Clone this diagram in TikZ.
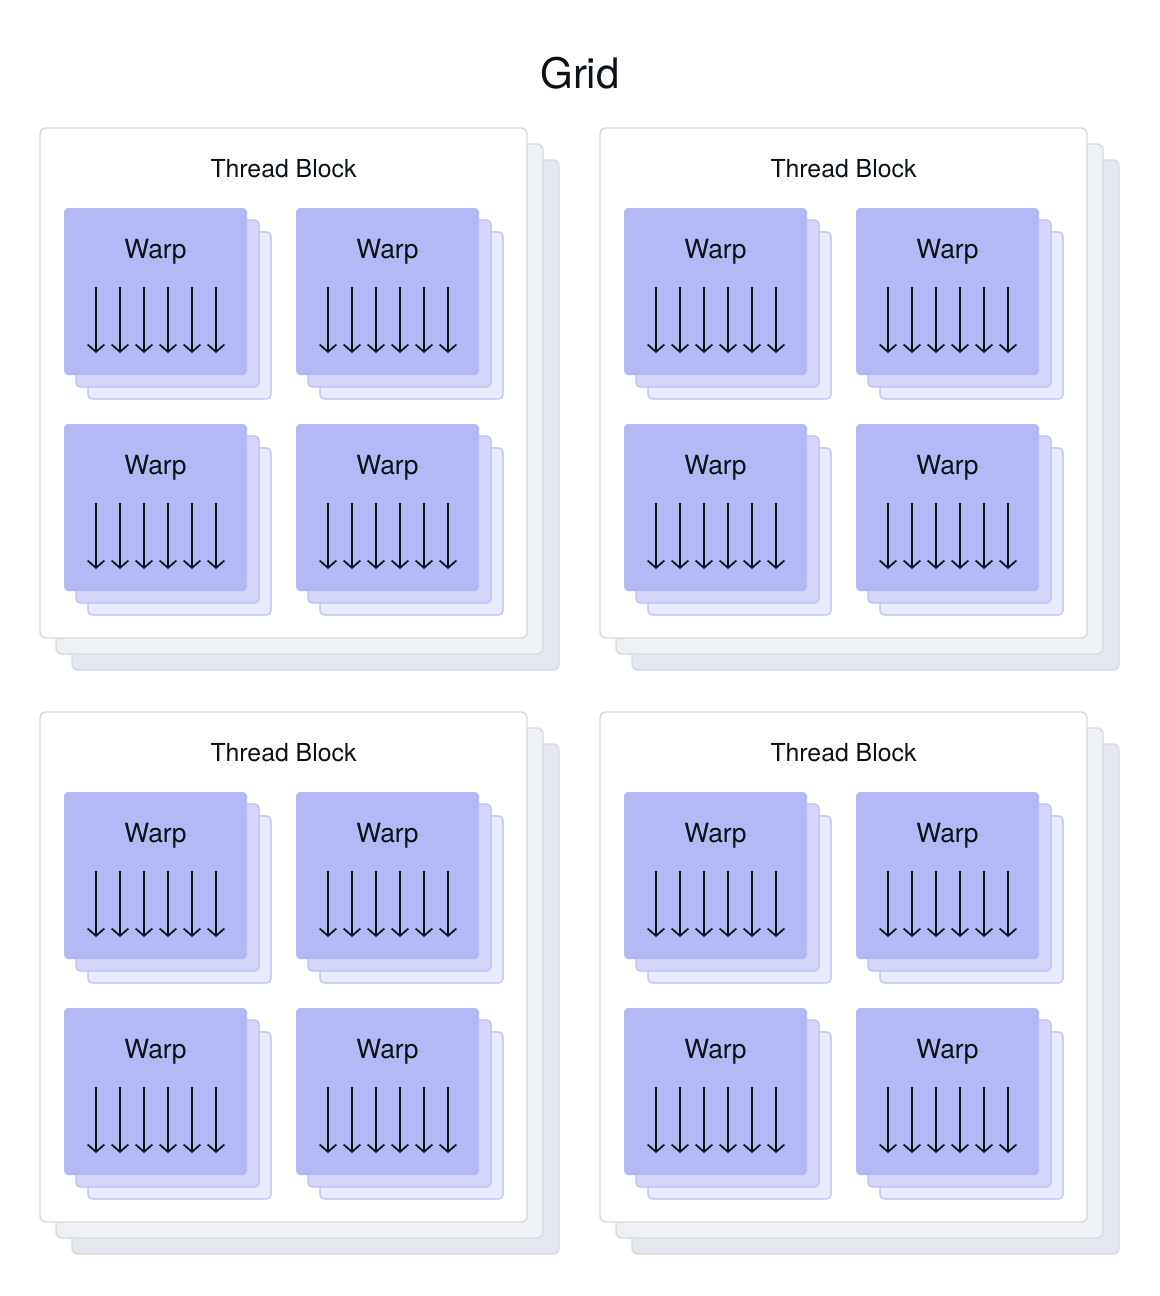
\documentclass[tikz,border=0pt]{standalone}
\usepackage{fontspec}
\setmainfont{TeX Gyre Heros}
\usetikzlibrary{arrows.meta}
\definecolor{inchiostro}{RGB}{10,18,24}
\definecolor{bordoblocco}{RGB}{212,217,228}
\definecolor{bloccoB}{RGB}{238,240,244}
\definecolor{bloccoC}{RGB}{228,231,238}
\definecolor{warpA}{RGB}{180,184,245}
\definecolor{warpB}{RGB}{212,215,250}
\definecolor{warpC}{RGB}{232,234,252}
\definecolor{bordowarp}{RGB}{186,190,242}

\begin{document}
\begin{tikzpicture}[x=0.75pt,y=-0.75pt,
	bloccoA/.style={draw=bordoblocco, line width=1.1pt, fill=white, rounded corners=4.5pt},
	bloccoB/.style={bloccoA, fill=bloccoB},
	bloccoC/.style={bloccoA, fill=bloccoC},
	warpA/.style={fill=warpA, rounded corners=3pt},
	warpB/.style={draw=bordowarp, line width=0.8pt, fill=warpB, rounded corners=3pt},
	warpC/.style={warpB, fill=warpC},
	filo/.style={draw=inchiostro, line width=1.25pt, -{Straight Barb[length=5.5pt,width=12.5pt]}},
	titolo/.style={anchor=base, text=inchiostro, font=\fontsize{31.5}{38}\selectfont},
	etichetta/.style={anchor=base, text=inchiostro, font=\fontsize{18.6}{22}\selectfont},
	nomewarp/.style={anchor=base, text=inchiostro, font=\fontsize{19.8}{24}\selectfont}]
	
	\useasboundingbox (0,0) rectangle (1160,1296);
	
	%nomi
	\node[titolo] (grid) at (580,88) {Grid};
	
	%blocchi
	\foreach \bx/\by [count=\b] in {40/128,600/128,40/712,600/712}{
		\begin{scope}[shift={(\bx,\by)}]
			\draw[bloccoC] (32,32) rectangle ++(487,510);
			\draw[bloccoB] (16,16) rectangle ++(487,510);
			\draw[bloccoA] (0,0) rectangle ++(487,510);
			\node[etichetta] (tb-\b) at (243.5,49) {Thread Block};
			
			%warp
			\foreach \wx/\wy [count=\w] in {24/80,256/80,24/296,256/296}{
				\draw[warpC] (\wx+24,\wy+24) rectangle ++(183,167);
				\draw[warpB] (\wx+12,\wy+12) rectangle ++(183,167);
				\fill[warpA] (\wx,\wy) rectangle ++(183,167);
				\node[nomewarp] (w-\b-\w) at (\wx+91.5,\wy+50) {Warp};
				\foreach \t in {0,...,5}
					\draw[filo] (\wx+32+24*\t,\wy+79) -- ++(0,66);
			}
		\end{scope}
	}
	
\end{tikzpicture}
\end{document}
